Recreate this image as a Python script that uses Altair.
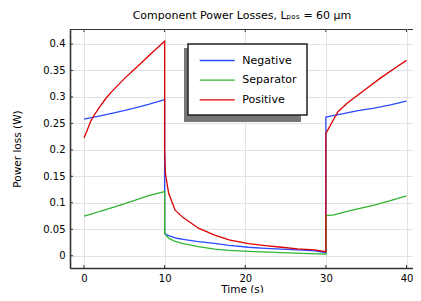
import altair as alt
import pandas as pd

series = ["Negative", "Separator", "Positive"]
colors = ["#2a4bff", "#2fb52f", "#dd0000"]

neg_t = [0, 2, 4, 6, 8, 10, 10, 10.5, 11.5, 12.3, 14, 16.4, 18, 20.4, 22.5, 24.5, 26.5, 28.6, 30,
         30, 32, 34, 36, 38, 40]
neg_v = [0.258, 0.264, 0.271, 0.278, 0.286, 0.295, 0.042, 0.038, 0.033, 0.031, 0.027, 0.023, 0.0195,
         0.016, 0.014, 0.0126, 0.011, 0.009, 0.0057,
         0.262, 0.268, 0.274, 0.279, 0.285, 0.292]

sep_t = [0, 1, 2, 4, 6, 8, 10, 10, 10.5, 11.3, 12.3, 14.2, 16.2, 18, 20.4, 24.5, 28, 30,
         30, 31, 33, 36, 38, 40]
sep_v = [0.075, 0.079, 0.084, 0.093, 0.103, 0.1135, 0.121, 0.042, 0.033, 0.027, 0.023, 0.017, 0.0126,
         0.0102, 0.0083, 0.0057, 0.0038, 0.003,
         0.076, 0.077, 0.085, 0.0957, 0.104, 0.113]

pos_t = [0, 0.4, 0.8, 1.2, 1.8, 2.7, 3.5, 5.1, 6.8, 8.4, 10, 10, 10.1, 10.5, 11.3, 12.3, 14.2, 16.2,
         18, 20.4, 22.5, 24.5, 26.5, 28.6, 30,
         30, 30.4, 30.9, 31.5, 32.7, 34.8, 36.8, 38.9, 40]
pos_v = [0.223, 0.237, 0.253, 0.264, 0.278, 0.297, 0.311, 0.336, 0.360, 0.383, 0.405, 0.2, 0.155,
         0.118, 0.086, 0.072, 0.052, 0.039, 0.030, 0.023, 0.019, 0.016, 0.013, 0.011, 0.0076,
         0.231, 0.242, 0.256, 0.272, 0.289, 0.313, 0.336, 0.358, 0.369]

x_ticks = [0, 10, 20, 30, 40]
y_ticks = [0, 0.05, 0.1, 0.15, 0.2, 0.25, 0.3, 0.35, 0.4]

rows = []
for name, ts, vs in [("Negative", neg_t, neg_v), ("Separator", sep_t, sep_v), ("Positive", pos_t, pos_v)]:
    for i, (t, v) in enumerate(zip(ts, vs)):
        rows.append({"series": name, "t": t, "v": v, "idx": i})
df = pd.DataFrame(rows)

FONT = "DejaVu Sans"

x_enc = alt.X("t:Q",
              scale=alt.Scale(domain=[-1.736, 40.93], nice=False, zero=False),
              axis=alt.Axis(values=x_ticks, title="Time (s)", labelPadding=5, titlePadding=1))
y_enc = alt.Y("v:Q",
              scale=alt.Scale(domain=[-0.0232, 0.4283], nice=False, zero=False),
              axis=alt.Axis(values=y_ticks, format="~g", title="Power loss (W)",
                            labelPadding=5, titlePadding=20))

lines = alt.Chart(df).mark_line(strokeWidth=1.3, clip=True).encode(
    x=x_enc,
    y=y_enc,
    color=alt.Color("series:N",
                    scale=alt.Scale(domain=series, range=colors),
                    sort=series,
                    legend=alt.Legend(title=None, orient="none", legendX=118, legendY=15,
                                      direction="vertical", symbolType="M-3,0H3",
                                      symbolSize=136, symbolStrokeWidth=1.3,
                                      labelFontSize=11, labelOffset=18.6, symbolOffset=12.7,
                                      rowPadding=7.7)),
    order=alt.Order("idx:Q"),
)

xt_df = pd.DataFrame({"t": x_ticks})
yt_df = pd.DataFrame({"v": y_ticks})
bottom_ticks = alt.Chart(xt_df).mark_rule(color="#333333", strokeWidth=1).encode(
    x=x_enc, y=alt.value(236), y2=alt.value(239))
top_ticks = alt.Chart(xt_df).mark_rule(color="#333333", strokeWidth=1).encode(
    x=x_enc, y=alt.value(0), y2=alt.value(3))
left_ticks = alt.Chart(yt_df).mark_rule(color="#333333", strokeWidth=1).encode(
    y=y_enc, x=alt.value(0), x2=alt.value(3))

shadow = alt.Chart(alt.Data(values=[{}])).mark_rect(color="#777777").encode(
    x=alt.value(114), x2=alt.value(231), y=alt.value(19), y2=alt.value(93)
)

chart = alt.layer(shadow, bottom_ticks, top_ticks, left_ticks, lines).properties(
    width=344,
    height=239,
    padding={"left": 62, "top": 21, "right": -1, "bottom": 25},
    autosize="none",
    title=alt.TitleParams("Component Power Losses, Lₚₒₛ = 60 µm", fontSize=11,
                          fontWeight="normal", font=FONT, anchor="middle", offset=8,
                          color="black"),
).configure(font=FONT).configure_view(
    stroke="#333333", strokeWidth=1
).configure_axis(
    domainColor="#333333", domainWidth=1.6, gridColor="#e2e2e2", gridWidth=1,
    ticks=False, tickSize=0, labelFontSize=10, labelColor="black", titleFontSize=10.5,
    titleFontWeight="normal", titleColor="black", labelFont=FONT, titleFont=FONT
).configure_legend(
    fillColor="white", strokeColor="#222222", strokeWidth=1.5, padding=10,
    labelColor="black", labelFont=FONT
)

chart.save("out.html", embed_options={"renderer": "svg", "actions": False})
